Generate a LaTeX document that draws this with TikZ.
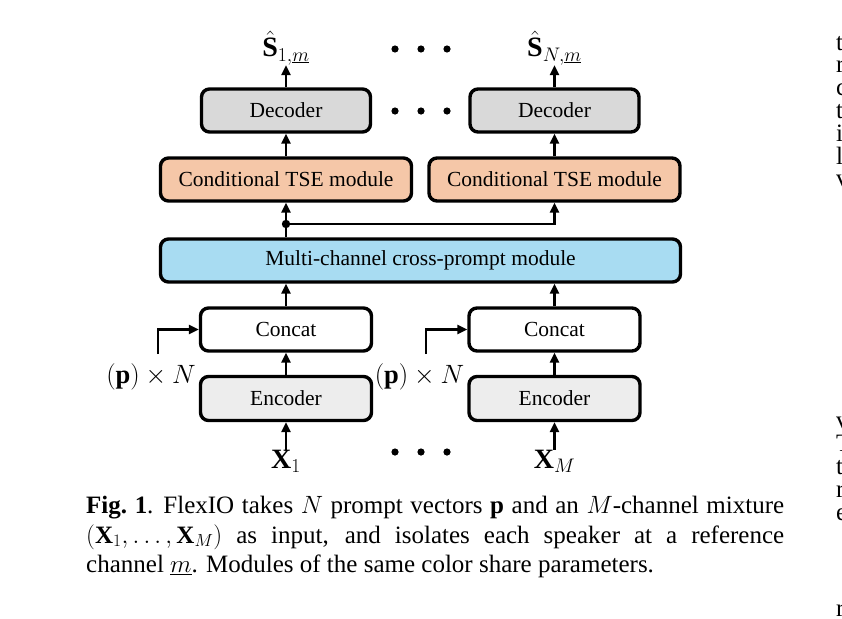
\documentclass[tikz,border=0pt]{standalone}
\usepackage{fix-cm}
\usepackage{fontspec}
\setmainfont{Liberation Serif}
\usetikzlibrary{arrows.meta}
\definecolor{decgray}{HTML}{D9D9D9}
\definecolor{tsecol}{HTML}{F5C7A8}
\definecolor{mccol}{HTML}{A8DCF2}
\definecolor{enccol}{HTML}{EDEDED}
\tikzset{
  box/.style={draw=black, line width=3.4pt, rounded corners=8pt, inner sep=0pt,
    font=\fontsize{21.5}{24}\selectfont},
  arr/.style={line width=2.4pt, -{Triangle[length=10pt,width=9pt]}},
  lab/.style={font=\fontsize{28}{32}\selectfont, inner sep=0pt},
  plab/.style={font=\fontsize{26.5}{30}\selectfont, inner sep=0pt},
  frag/.style={font=\fontsize{25}{28}\selectfont, inner sep=0pt, anchor=base west},
}
\begin{document}
\begin{tikzpicture}[x=1pt,y=-1pt]
\useasboundingbox[fill=white] (0,0) rectangle (842,618);
% decoders
\node[box, fill=decgray, minimum width=169pt, minimum height=43pt] (dec1) at (286,110.5) {Decoder};
\node[box, fill=decgray, minimum width=169pt, minimum height=43pt] (dec2) at (554.5,110.5) {Decoder};
% TSE
\node[box, fill=tsecol, minimum width=251pt, minimum height=43pt] (tse1) at (286,179.5) {Conditional TSE module};
\node[box, fill=tsecol, minimum width=251pt, minimum height=43pt] (tse2) at (554.5,179.5) {Conditional TSE module};
% multi-channel
\node[box, fill=mccol, minimum width=520pt, minimum height=43pt] (mc) at (420.5,260.5) {Multi-channel cross-prompt module};
% concat
\node[box, fill=white, minimum width=171pt, minimum height=43pt] (cat1) at (286,329.5) {Concat};
\node[box, fill=white, minimum width=171pt, minimum height=43pt] (cat2) at (554.5,329.5) {Concat};
% encoder
\node[box, fill=enccol, minimum width=171pt, minimum height=44pt] (enc1) at (286,398.5) {Encoder};
\node[box, fill=enccol, minimum width=171pt, minimum height=44pt] (enc2) at (554.5,398.5) {Encoder};
% labels
\node[lab] (s1) at (286,48) {$\hat{\mathbf{S}}_{1,\underline{m}}$};
\node[lab] (s2) at (554.5,48) {$\hat{\mathbf{S}}_{N,\underline{m}}$};
\node[lab] (x1) at (286,461) {$\mathbf{X}_1$};
\node[lab] (x2) at (554.5,461) {$\mathbf{X}_M$};
\node[plab] (p1) at (151,377) {$(\mathbf{p})\times N$};
\node[plab] (p2) at (419.5,377) {$(\mathbf{p})\times N$};
% arrows
\draw[arr] (dec1.north) -- (dec1.north |- s1.south);
\draw[arr] (dec2.north) -- (dec2.north |- s2.south);
\draw[arr] (tse1.north) -- (dec1.south);
\draw[arr] (tse2.north) -- (dec2.south);
\coordinate (j) at (286,224);
\draw[arr] (tse1.south |- mc.north) -- (tse1.south);
\fill (j) circle (4.2pt);
\draw[arr] (j) -| (tse2.south);
\draw[arr] (cat1.north) -- (cat1.north |- mc.south);
\draw[arr] (cat2.north) -- (cat2.north |- mc.south);
\draw[arr] (enc1.north) -- (cat1.south);
\draw[arr] (enc2.north) -- (cat2.south);
\draw[arr] (x1.north) -- (enc1.south);
\draw[arr] (x2.north) -- (enc2.south);
\coordinate (q1) at (158,354);
\coordinate (q2) at (426,354);
\draw[arr] (q1) |- (cat1.west);
\draw[arr] (q2) |- (cat2.west);
% dots
\foreach \yy in {49,111,452}{
  \foreach \xx in {395,421,447}{
    \fill (\xx,\yy) circle (3.6pt);
  }
}
% caption
\node[anchor=north west, inner sep=0pt, text width=698pt, align=justify,
  font=\fontsize{25}{29.5}\selectfont] (cap) at (86,496)
  {\textbf{Fig.~1}.\hspace{0.4em}FlexIO takes $N$ prompt vectors $\mathbf{p}$ and an $M$-channel mixture\linebreak
   $(\mathbf{X}_1,\dots,\mathbf{X}_M)$ as input, and isolates each speaker at a reference\linebreak
   channel $\underline{m}$. Modules of the same color share parameters.};
% fragments of the neighbouring column
\node[frag] (f1) at (836,50) {t};
\node[frag] (f2) at (836,72.8) {r};
\node[frag] (f3) at (836,95.6) {c};
\node[frag] (f4) at (836,118.4) {t};
\node[frag] (f5) at (836,141.2) {i};
\node[frag] (f6) at (836,164) {l};
\node[frag] (f7) at (836,186.8) {v};
\node[frag] (f8) at (836,428) {v};
\node[frag] (f9) at (836,451) {T};
\node[frag] (f10) at (836,474) {t};
\node[frag] (f11) at (836,497) {r};
\node[frag] (f12) at (836,520) {e};
\node[frag] (f13) at (836,616) {r};
\end{tikzpicture}
\end{document}
